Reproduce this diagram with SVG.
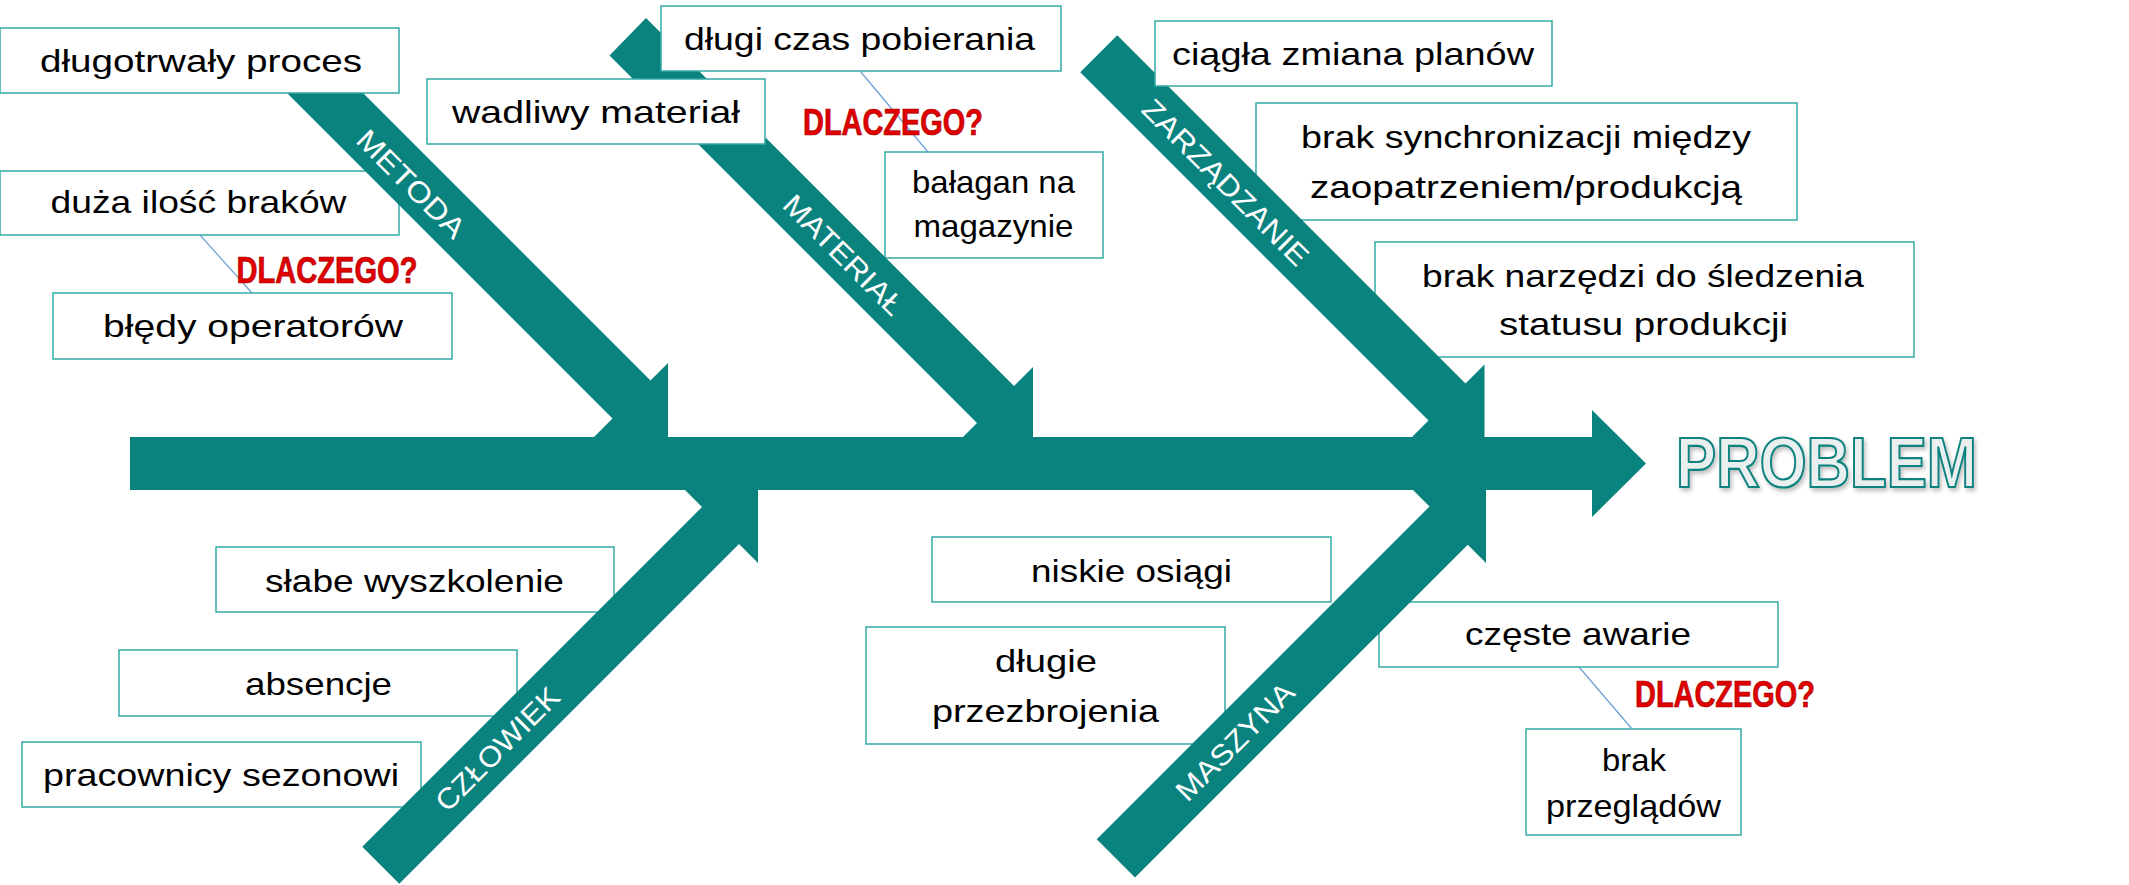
<svg xmlns="http://www.w3.org/2000/svg" width="2129" height="885" viewBox="0 0 2129 885">
<defs>
<style>
.box{fill:#fff;stroke:#33aaa4;stroke-width:1.5}
.t{font-family:'Liberation Sans',Arial,sans-serif;font-size:32px;fill:#000;text-anchor:middle}
.why{font-family:'Liberation Sans',Arial,sans-serif;font-weight:bold;font-size:36px;fill:#e00000;stroke:#a80000;stroke-width:0.7;text-anchor:middle}
.bone{fill:#0a827e}
.lbl{font-family:'Liberation Sans',Arial,sans-serif;font-size:29px;fill:#fff;text-anchor:middle;dominant-baseline:central}
.link{stroke:#6a9fd6;stroke-width:1.2;fill:none}
.prob{font-family:'Liberation Sans',Arial,sans-serif;font-weight:bold;font-size:70px;fill:#e9efef;stroke:#0a827e;stroke-width:2.2;text-anchor:middle}
</style>
<filter id="sh" x="-5%" y="-20%" width="110%" height="140%">
<feDropShadow dx="2" dy="3" stdDeviation="2" flood-color="#000" flood-opacity="0.25"/>
</filter>
</defs>
<rect width="2129" height="885" fill="#fff"/>

<!-- boxes under the bones -->
<g id="n-duza-ilosc"><rect class="box" x="0" y="171" width="399" height="64"/><text class="t" x="198.5" y="213" textLength="296" lengthAdjust="spacingAndGlyphs">duża ilość braków</text></g>
<g id="n-balagan"><rect class="box" x="885" y="152" width="218" height="106"/><text class="t" x="993.5" y="193" textLength="163" lengthAdjust="spacingAndGlyphs">bałagan na</text><text class="t" x="993.5" y="237" textLength="160" lengthAdjust="spacingAndGlyphs">magazynie</text></g>
<g id="n-brak-synchr"><rect class="box" x="1256" y="103" width="541" height="117"/><text class="t" x="1526" y="148" textLength="450" lengthAdjust="spacingAndGlyphs">brak synchronizacji między</text><text class="t" x="1526" y="198" textLength="432" lengthAdjust="spacingAndGlyphs">zaopatrzeniem/produkcją</text></g>
<g id="n-brak-narzedzi"><rect class="box" x="1375" y="242" width="539" height="115"/><text class="t" x="1643" y="287" textLength="442" lengthAdjust="spacingAndGlyphs">brak narzędzi do śledzenia</text><text class="t" x="1643.5" y="335" textLength="289" lengthAdjust="spacingAndGlyphs">statusu produkcji</text></g>
<g id="n-slabe"><rect class="box" x="216" y="547" width="398" height="65"/><text class="t" x="414.5" y="592" textLength="299" lengthAdjust="spacingAndGlyphs">słabe wyszkolenie</text></g>
<g id="n-absencje"><rect class="box" x="119" y="650" width="398" height="66"/><text class="t" x="318.5" y="695" textLength="147" lengthAdjust="spacingAndGlyphs">absencje</text></g>
<g id="n-pracownicy"><rect class="box" x="22" y="742" width="399" height="65"/><text class="t" x="221" y="786" textLength="356" lengthAdjust="spacingAndGlyphs">pracownicy sezonowi</text></g>
<g id="n-niskie"><rect class="box" x="932" y="537" width="399" height="65"/><text class="t" x="1131.5" y="582" textLength="201" lengthAdjust="spacingAndGlyphs">niskie osiągi</text></g>
<g id="n-dlugie-przezbr"><rect class="box" x="866" y="627" width="359" height="117"/><text class="t" x="1046" y="672" textLength="102" lengthAdjust="spacingAndGlyphs">długie</text><text class="t" x="1045.5" y="722" textLength="227" lengthAdjust="spacingAndGlyphs">przezbrojenia</text></g>
<g id="n-czeste"><rect class="box" x="1379" y="602" width="399" height="65"/><text class="t" x="1578" y="645" textLength="226" lengthAdjust="spacingAndGlyphs">częste awarie</text></g>

<!-- spine and bones -->
<g id="spine"><polygon class="bone" points="130,437 1592,437 1592,410 1646,463.5 1592,517 1592,490 130,490"/></g>
<g id="bone-metoda"><polygon class="bone" points="262,68 300,30 650.5,380.5 668,363 668,437 594,437 612.5,418.5"/><text class="lbl" transform="translate(411,184) rotate(45)" textLength="140" lengthAdjust="spacingAndGlyphs">METODA</text></g>
<g id="bone-material"><polygon class="bone" points="609.5,55.5 646,18 1014,386 1033,367 1033,442 958,442 977,423"/><text class="lbl" transform="translate(843.5,255) rotate(45)" textLength="157" lengthAdjust="spacingAndGlyphs">MATERIAŁ</text></g>
<g id="bone-zarzadzanie"><polygon class="bone" points="1080.25,72.25 1117.25,35.25 1465.5,383.5 1484.5,364.5 1484.5,439.5 1409.5,439.5 1428.5,420.5"/><text class="lbl" transform="translate(1225.5,182.5) rotate(45)" textLength="222" lengthAdjust="spacingAndGlyphs">ZARZĄDZANIE</text></g>
<g id="bone-czlowiek"><polygon class="bone" points="362.25,846.75 702,507 683,488 758,488 758,563 739,544 399.25,883.75"/><text class="lbl" transform="translate(497.5,749) rotate(-45)" textLength="162" lengthAdjust="spacingAndGlyphs">CZŁOWIEK</text></g>
<g id="bone-maszyna"><polygon class="bone" points="1096.75,839.25 1429.5,506.5 1411,488 1486,488 1486,563 1467.75,544.75 1135,877.5"/><text class="lbl" transform="translate(1235,741.5) rotate(-45)" textLength="154" lengthAdjust="spacingAndGlyphs">MASZYNA</text></g>

<!-- boxes over the bones -->
<g id="n-dlugotrwaly"><rect class="box" x="0" y="28" width="399" height="65"/><text class="t" x="201" y="72" textLength="322" lengthAdjust="spacingAndGlyphs">długotrwały proces</text></g>
<g id="n-dlugi-czas"><rect class="box" x="661" y="6" width="400" height="65"/><text class="t" x="859.5" y="50" textLength="351" lengthAdjust="spacingAndGlyphs">długi czas pobierania</text></g>
<g id="n-wadliwy"><rect class="box" x="427" y="79" width="338" height="65"/><text class="t" x="596" y="123" textLength="288" lengthAdjust="spacingAndGlyphs">wadliwy materiał</text></g>
<g id="n-ciagla"><rect class="box" x="1155" y="21" width="397" height="65"/><text class="t" x="1353" y="65" textLength="362" lengthAdjust="spacingAndGlyphs">ciągła zmiana planów</text></g>
<g id="n-bledy"><rect class="box" x="53" y="293" width="399" height="66"/><text class="t" x="253" y="337" textLength="300" lengthAdjust="spacingAndGlyphs">błędy operatorów</text></g>
<g id="n-brak-przegladow"><rect class="box" x="1526" y="729" width="215" height="106"/><text class="t" x="1634" y="771" textLength="64" lengthAdjust="spacingAndGlyphs">brak</text><text class="t" x="1633.5" y="817" textLength="175" lengthAdjust="spacingAndGlyphs">przeglądów</text></g>

<!-- connectors -->
<g id="connectors">
<line class="link" x1="200" y1="235" x2="252" y2="293"/>
<line class="link" x1="860" y1="71" x2="928" y2="152"/>
<line class="link" x1="1579" y1="667" x2="1632" y2="729"/>
</g>

<g id="why-labels">
<text class="why" x="327" y="283" textLength="181" lengthAdjust="spacingAndGlyphs">DLACZEGO?</text>
<text class="why" x="893" y="135" textLength="180" lengthAdjust="spacingAndGlyphs">DLACZEGO?</text>
<text class="why" x="1725" y="707" textLength="180" lengthAdjust="spacingAndGlyphs">DLACZEGO?</text>
</g>

<g id="n-problem"><text class="prob" x="1826.5" y="487" textLength="301" lengthAdjust="spacingAndGlyphs" filter="url(#sh)">PROBLEM</text></g>
</svg>
